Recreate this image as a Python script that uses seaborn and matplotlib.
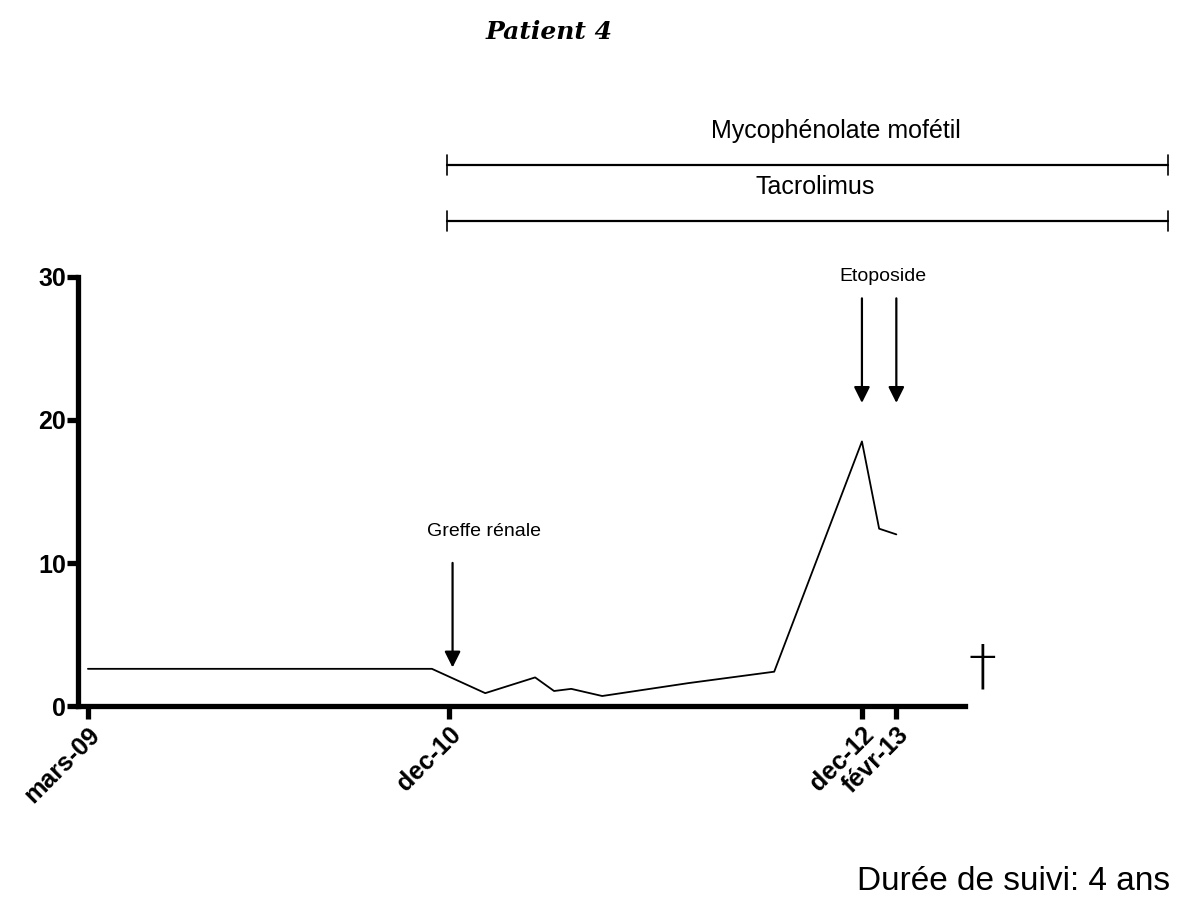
import matplotlib
matplotlib.use('Agg')
import matplotlib.pyplot as plt
import seaborn as sns
import pandas as pd

# mois depuis mars-09 et valeurs
mois = [0, 20.0, 23.1, 26.0, 27.1, 28.1, 29.9, 34.9, 39.9, 45.0, 46.0, 47.0]
valeurs = [2.6, 2.6, 0.9, 2.0, 1.05, 1.2, 0.7, 1.6, 2.4, 18.5, 12.4, 12.0]

tick_mois = [0, 21, 45, 47]
tick_labels = ['mars-09', 'dec-10', 'dec-12', 'févr-13']

# traitements (debut, fin en mois)
traitements = ['Mycophénolate mofétil', 'Tacrolimus']
trt_debut = [20.9, 20.9]
trt_fin = [62.8, 62.8]

greffe_mois = 21.2
etoposide_mois = [45, 47]
deces_mois = 52

noir = {'axes.edgecolor': 'black', 'text.color': 'black',
        'xtick.color': 'black', 'ytick.color': 'black', 'axes.labelcolor': 'black'}
sns.set_theme(style='ticks', rc=noir)
plt.rcParams['font.family'] = ['Liberation Sans', 'DejaVu Sans']

df = pd.DataFrame({'mois': mois, 'valeur': valeurs})

fig = plt.figure(figsize=(11.78, 9.09), dpi=100)
ax = fig.add_axes([0.0666, 0.2233, 0.8193 - 0.0666, 0.6953 - 0.2233])
sns.lineplot(data=df, x='mois', y='valeur', ax=ax, color='black', linewidth=1.3, sort=False)

ax.set_xlim(-0.55, 51.0)
ax.set_ylim(0, 30)
ax.set_yticks([0, 10, 20, 30])
ax.set_xticks(tick_mois)
ax.set_xticklabels(tick_labels, rotation=45, ha='right', rotation_mode='anchor')
ax.set_xlabel('')
ax.set_ylabel('')
sns.despine(ax=ax)
for s in ['left', 'bottom']:
    ax.spines[s].set_linewidth(3.8)
ax.tick_params(axis='y', width=3.8, length=8, labelsize=18, pad=1)
ax.tick_params(axis='x', width=3.8, length=9, labelsize=18, pad=3)
for lab in ax.get_xticklabels() + ax.get_yticklabels():
    lab.set_fontweight('bold')

# fleches
arr = dict(arrowstyle='-|>', color='black', lw=1.6, mutation_scale=24)
ax.annotate('', xy=(greffe_mois, 2.5), xytext=(greffe_mois, 10.2), arrowprops=arr)
ax.text(greffe_mois + 1.8, 12.2, 'Greffe rénale', ha='center', va='center', fontsize=14)
for m in etoposide_mois:
    ax.annotate('', xy=(m, 21.0), xytext=(m, 28.7), arrowprops=arr, annotation_clip=False)
ax.text(46.2, 30.0, 'Etoposide', ha='center', va='center', fontsize=14, clip_on=False)

# deces
ax.text(deces_mois, 2.6, '†', ha='center', va='center', fontsize=40, fontweight='light',
        family=['DejaVu Sans'], clip_on=False)

# barres de traitement
trt_y = [37.8, 33.9]
trt_txt_x = [43.5, 42.3]
for nom, d, f, yy, tx in zip(traitements, trt_debut, trt_fin, trt_y, trt_txt_x):
    ax.plot([d, f], [yy, yy], color='black', lw=1.6, clip_on=False)
    for xe in (d, f):
        ax.plot([xe, xe], [yy - 0.7, yy + 0.7], color='black', lw=1.2, clip_on=False)
    ax.text(tx, yy + 2.4, nom, ha='center', va='center', fontsize=18, clip_on=False)

fig.text(549 / 1178, 1 - 32 / 909, 'Patient 4', ha='center', va='center', fontsize=18,
         fontweight='bold', style='italic', family=['DejaVu Serif'])
fig.text(1170 / 1178, 1 - 882 / 909, 'Durée de suivi: 4 ans', ha='right', va='center', fontsize=24)

fig.savefig('out.png', dpi=100)
